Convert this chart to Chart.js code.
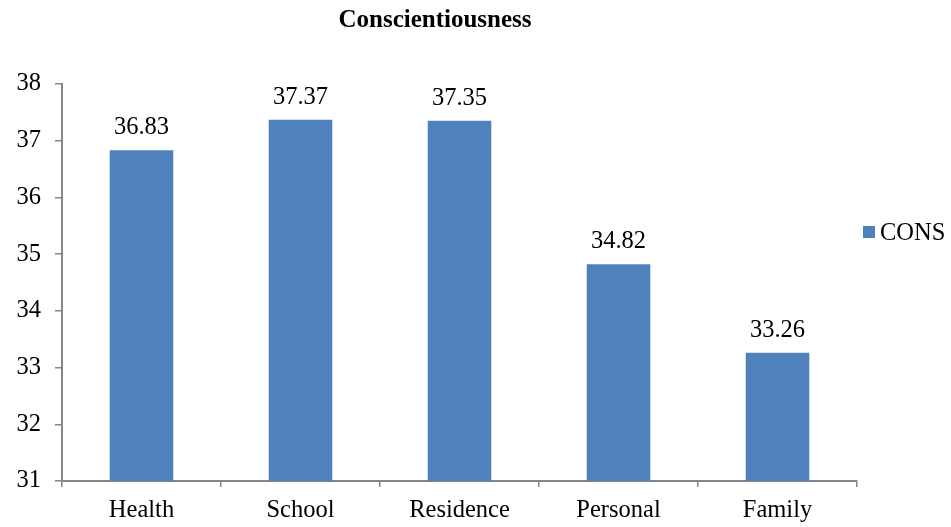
<!DOCTYPE html>
<html>
<head>
<meta charset="utf-8">
<script src="https://cdn.jsdelivr.net/npm/chart.js@4.4.1/dist/chart.umd.min.js"></script>
<style>
  html, body { margin: 0; padding: 0; background: #ffffff; }
  #wrap { width: 951px; height: 527px; position: relative; }
</style>
</head>
<body>
<div id="wrap"><canvas id="c" width="951" height="527"></canvas></div>
<script>
const categories = ['Health', 'School', 'Residence', 'Personal', 'Family'];
const consValues = [36.83, 37.37, 37.35, 34.82, 33.26];
const seriesName = 'CONS';
const chartTitle = 'Conscientiousness';
const yMin = 31, yMax = 38, yStep = 1;

const barColor = '#4F81BD';
const axisColor = '#868686';
const serif = "'Liberation Serif', 'Times New Roman', serif";
const textSize = 24.5;

// Title, value labels and legend entry drawn on the canvas
const decorations = {
  id: 'decorations',
  afterDatasetsDraw(chart) {
    const ctx = chart.ctx;
    const meta = chart.getDatasetMeta(0);
    ctx.save();
    ctx.fillStyle = '#000000';
    ctx.font = textSize + 'px ' + serif;
    ctx.textAlign = 'center';
    ctx.textBaseline = 'alphabetic';
    meta.data.forEach((bar, i) => {
      ctx.fillText(consValues[i].toFixed(2), bar.x, bar.y - 16);
    });

    ctx.font = 'bold 25px ' + serif;
    ctx.fillText(chartTitle, 435, 27);

    // legend
    ctx.fillStyle = barColor;
    ctx.fillRect(863, 226, 12, 12);
    ctx.fillStyle = '#000000';
    ctx.textAlign = 'left';
    ctx.font = textSize + 'px ' + serif;
    ctx.fillText(seriesName, 880, 240);
    ctx.restore();
  }
};

new Chart(document.getElementById('c'), {
  type: 'bar',
  data: {
    labels: categories,
    datasets: [{
      label: seriesName,
      data: consValues,
      backgroundColor: barColor,
      borderWidth: 0,
      categoryPercentage: 1.0,
      barPercentage: 0.4
    }]
  },
  options: {
    responsive: false,
    animation: false,
    devicePixelRatio: 1,
    layout: { padding: { left: 0, right: 94, top: 84, bottom: 0 } },
    plugins: {
      legend: { display: false },
      title: { display: false },
      tooltip: { enabled: false }
    },
    scales: {
      x: {
        offset: true,
        grid: {
          offset: true,
          drawOnChartArea: false,
          drawTicks: true,
          tickLength: 6,
          color: axisColor,
          lineWidth: 1.5
        },
        border: { display: true, color: axisColor, width: 2 },
        ticks: {
          color: '#000000',
          font: { family: serif, size: textSize },
          padding: 9,
          maxRotation: 0,
          autoSkip: false
        },
        afterFit(scale) { scale.height = 46; }
      },
      y: {
        min: yMin,
        max: yMax,
        grid: {
          drawOnChartArea: false,
          drawTicks: true,
          tickLength: 7,
          color: axisColor,
          lineWidth: 1.5
        },
        border: { display: true, color: axisColor, width: 2 },
        ticks: {
          stepSize: yStep,
          color: '#000000',
          font: { family: serif, size: textSize },
          padding: 14
        },
        afterFit(scale) { scale.width = 62; }
      }
    }
  },
  plugins: [decorations]
});
</script>
</body>
</html>
